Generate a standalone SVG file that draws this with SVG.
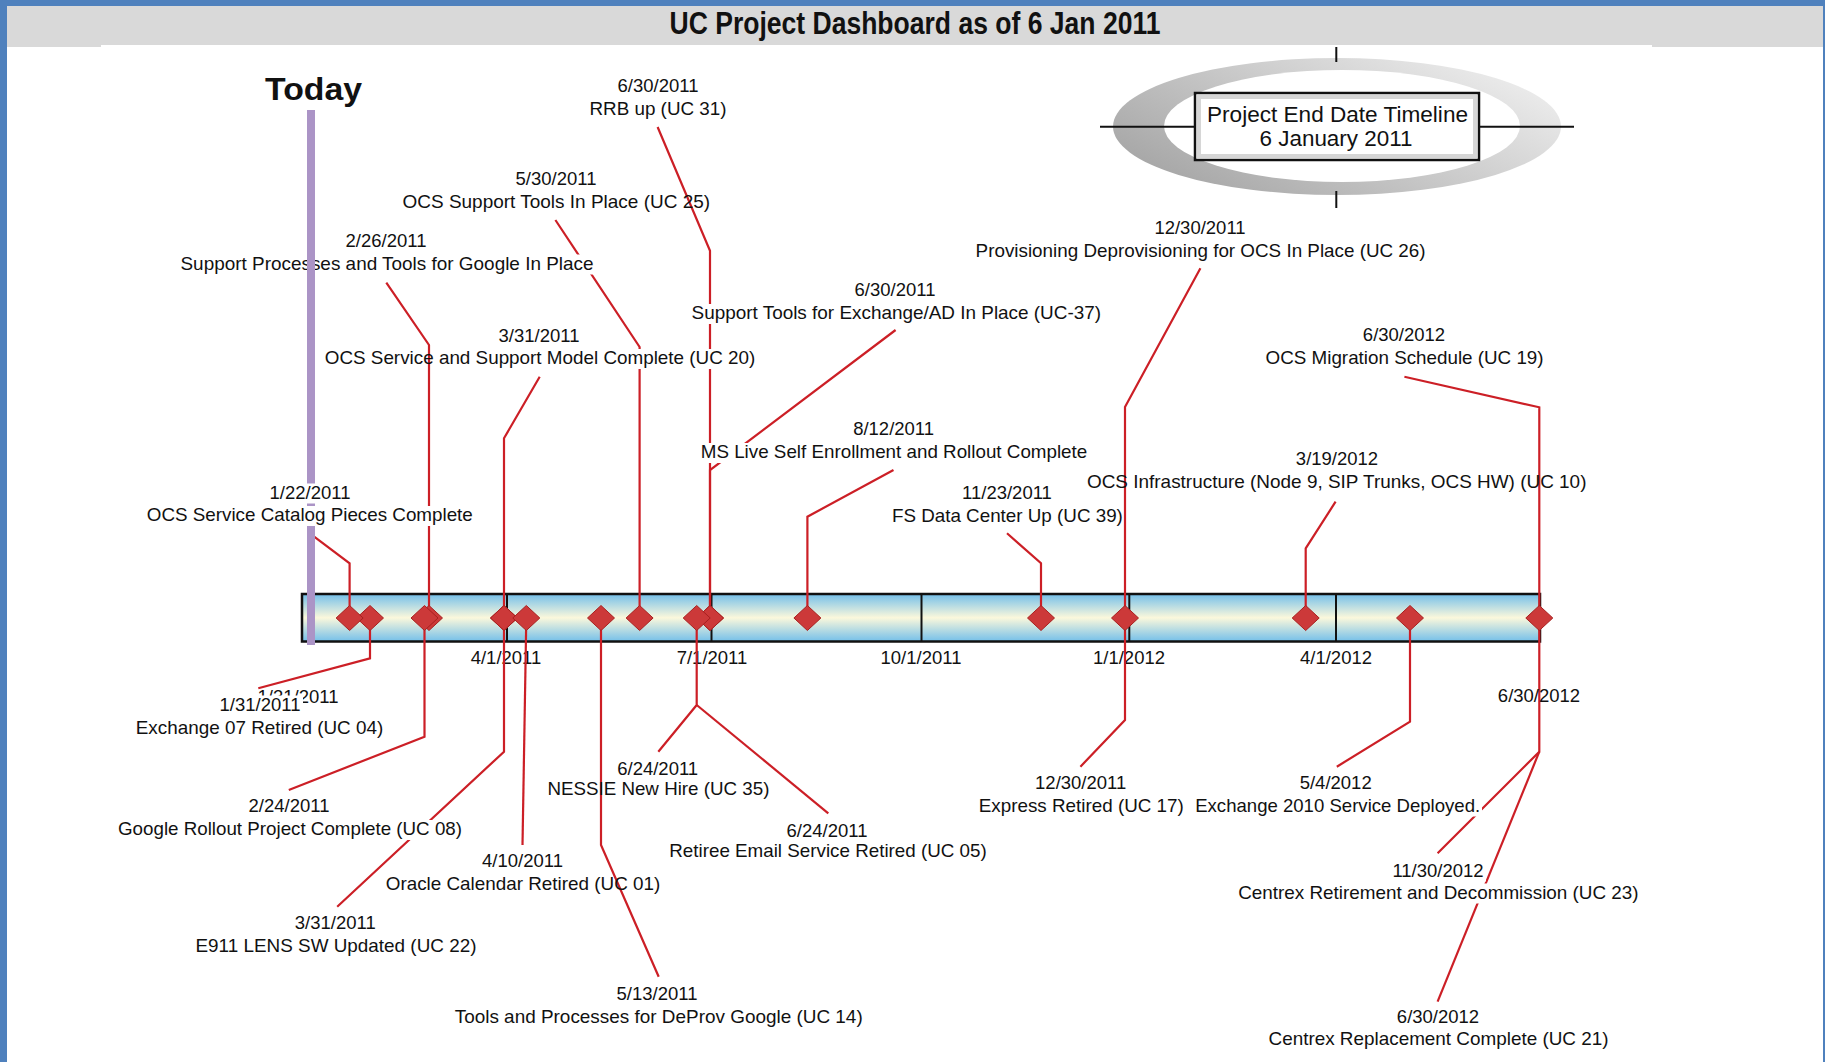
<svg xmlns="http://www.w3.org/2000/svg" width="1825" height="1062" viewBox="0 0 1825 1062">
<defs>
<style>
.t{font-family:"Liberation Sans",Arial,sans-serif;font-size:18.5px;fill:#111;text-anchor:middle}
.ax{font-family:"Liberation Sans",Arial,sans-serif;font-size:18.5px;fill:#111;text-anchor:middle}
.c{fill:none;stroke:#cc1f26;stroke-width:2.2;stroke-linejoin:miter}
.d{fill:#cc3939;stroke:#a82020;stroke-width:1}
.bg{fill:#ffffff}
.tick{stroke:#111;stroke-width:2}
</style>
<linearGradient id="barGrad" x1="0" y1="0" x2="0" y2="1">
<stop offset="0" stop-color="#74bfe9"/>
<stop offset="0.5" stop-color="#fbf8dc"/>
<stop offset="1" stop-color="#74bfe9"/>
</linearGradient>
<linearGradient id="swoosh" x1="0" y1="0.8" x2="1" y2="0.2">
<stop offset="0" stop-color="#a3a3a3"/>
<stop offset="0.5" stop-color="#c9c9c9"/>
<stop offset="1" stop-color="#efefef"/>
</linearGradient>
<path id="dia" d="M0,-12.5 L13.5,0 L0,12.5 L-13.5,0 Z"/>
</defs>

<!-- frame and title -->
<rect x="0" y="0" width="1825" height="1062" fill="#ffffff"/>
<rect x="0" y="0" width="1825" height="6" fill="#4f81bd"/>
<rect x="0" y="0" width="7" height="1062" fill="#4f81bd"/>
<rect x="1823" y="0" width="2" height="1062" fill="#4f81bd"/>
<rect x="7" y="6" width="1816" height="41" fill="#d9d9d9"/>
<rect x="101" y="45" width="1551" height="3" fill="#ffffff"/>
<text x="915" y="34" font-family="'Liberation Sans',Arial,sans-serif" font-size="31" font-weight="bold" fill="#111" text-anchor="middle" textLength="491" lengthAdjust="spacingAndGlyphs">UC Project Dashboard as of 6 Jan 2011</text>

<!-- emblem -->
<g id="emblem">
<ellipse cx="1337" cy="126.5" rx="224" ry="68.5" fill="url(#swoosh)"/>
<ellipse cx="1342" cy="126" rx="178" ry="56" fill="#ffffff"/>
<line x1="1336.3" y1="47" x2="1336.3" y2="62" class="tick"/>
<line x1="1336.3" y1="191" x2="1336.3" y2="208" class="tick"/>
<line x1="1100" y1="126.7" x2="1574" y2="126.7" class="tick"/>
<rect x="1195" y="93" width="284" height="67" fill="#ffffff" stroke="#111" stroke-width="2.5"/>
<rect x="1199" y="97" width="276" height="59" fill="none" stroke="#d6d6d6" stroke-width="4"/>
<text x="1337.5" y="121.7" font-family="'Liberation Sans',Arial,sans-serif" font-size="22" fill="#111" text-anchor="middle" textLength="261" lengthAdjust="spacingAndGlyphs">Project End Date Timeline</text>
<text x="1336" y="146" font-family="'Liberation Sans',Arial,sans-serif" font-size="22" fill="#111" text-anchor="middle" textLength="153" lengthAdjust="spacingAndGlyphs">6 January 2011</text>
</g>

<!-- Today title -->
<text id="today-label" x="313.5" y="100" font-family="'Liberation Sans',Arial,sans-serif" font-size="32" font-weight="bold" fill="#111" text-anchor="middle" textLength="97" lengthAdjust="spacingAndGlyphs">Today</text>

<!-- timeline bar -->
<g id="timeline">
<rect x="302" y="594" width="1238" height="47.5" fill="url(#barGrad)" stroke="#111" stroke-width="2.5"/>
<line x1="507" y1="594" x2="507" y2="641.5" class="tick"/>
<line x1="711.5" y1="594" x2="711.5" y2="641.5" class="tick"/>
<line x1="921.5" y1="594" x2="921.5" y2="641.5" class="tick"/>
<line x1="1129.3" y1="594" x2="1129.3" y2="641.5" class="tick"/>
<line x1="1336" y1="594" x2="1336" y2="641.5" class="tick"/>
<text class="ax" x="506" y="664">4/1/2011</text>
<text class="ax" x="712" y="664">7/1/2011</text>
<text class="ax" x="921" y="664">10/1/2011</text>
<text class="ax" x="1129" y="664">1/1/2012</text>
<text class="ax" x="1336" y="664">4/1/2012</text>
</g>

<!-- connectors -->
<g id="connectors">
<path class="c" d="M657.6,127 L710,250.7 L710,618"/>
<path class="c" d="M555.4,220 L639.6,347 L639.6,618"/>
<path class="c" d="M386.3,282.7 L429,345 L429,618"/>
<path class="c" d="M539.7,376.7 L504,438.3 L504,618"/>
<path class="c" d="M895.6,330 L710,470 L710,618"/>
<path class="c" d="M893.5,470 L807.4,516.7 L807.4,618"/>
<path class="c" d="M1007,533.3 L1041,563.3 L1041,618"/>
<path class="c" d="M1200.4,268.3 L1125,407 L1125,618"/>
<path class="c" d="M1404.4,376.7 L1539.3,407.3 L1539.3,618"/>
<path class="c" d="M1335.6,501.7 L1305.7,548.3 L1305.7,618"/>
<path class="c" d="M309.8,533.3 L349.6,563.3 L349.6,618"/>
<path class="c" d="M370,618 L370,658.3 L258.3,688.3"/>
<path class="c" d="M424.5,618 L424.5,736.7 L288.8,790"/>
<path class="c" d="M504,618 L504,751.7 L337.2,906.7"/>
<path class="c" d="M526.3,618 L522.5,845"/>
<path class="c" d="M601,618 L601,845 L658.7,976.7"/>
<path class="c" d="M696.7,618 L696.7,705 L658.3,751.7"/>
<path class="c" d="M696.7,705 L828.3,813.3"/>
<path class="c" d="M1125,618 L1125,720 L1080.4,766.7"/>
<path class="c" d="M1410,618 L1410,721.7 L1336.8,766.7"/>
<path class="c" d="M1539.3,618 L1539.3,751.7 L1437.6,853.3"/>
<path class="c" d="M1539.3,751.7 L1437.6,1001.7"/>
</g>

<!-- milestones -->
<g id="m-rrb">
<use href="#dia" x="710" y="618" class="d"/>
<text class="t" x="658" y="92">6/30/2011</text>
<text class="t" x="658" y="115" textLength="137" lengthAdjust="spacingAndGlyphs">RRB up (UC 31)</text>
</g>
<g id="m-ocs-support-tools">
<use href="#dia" x="639.6" y="618" class="d"/>
<text class="t" x="556" y="185">5/30/2011</text>
<text class="t" x="556.3" y="208" textLength="307.5" lengthAdjust="spacingAndGlyphs">OCS Support Tools In Place (UC 25)</text>
</g>
<g id="m-support-processes">
<use href="#dia" x="429" y="618" class="d"/>
<rect class="bg" x="343" y="232" width="86" height="20"/>
<rect class="bg" x="178" y="254.5" width="418" height="20"/>
<text class="t" x="386" y="247">2/26/2011</text>
<text class="t" x="387" y="269.5" textLength="413" lengthAdjust="spacingAndGlyphs">Support Processes and Tools for Google In Place</text>
</g>
<g id="m-ocs-service-model">
<use href="#dia" x="504" y="618" class="d"/>
<rect class="bg" x="496" y="326.5" width="86" height="20"/>
<rect class="bg" x="433" y="349" width="324" height="20"/>
<text class="t" x="539" y="341.5">3/31/2011</text>
<text class="t" x="540" y="364" textLength="430.5" lengthAdjust="spacingAndGlyphs">OCS Service and Support Model Complete (UC 20)</text>
</g>
<g id="m-exchange-ad-tools">
<use href="#dia" x="710" y="618" class="d"/>
<rect class="bg" x="851" y="281" width="87" height="20"/>
<rect class="bg" x="689.5" y="304" width="413.5" height="20"/>
<text class="t" x="895" y="296">6/30/2011</text>
<text class="t" x="896.3" y="319" textLength="409.5" lengthAdjust="spacingAndGlyphs">Support Tools for Exchange/AD In Place (UC-37)</text>
</g>
<g id="m-ms-live">
<use href="#dia" x="807.4" y="618" class="d"/>
<rect class="bg" x="850" y="420" width="87" height="20"/>
<rect class="bg" x="698.5" y="443" width="390" height="20"/>
<text class="t" x="893.6" y="435">8/12/2011</text>
<text class="t" x="894" y="458" textLength="386.5" lengthAdjust="spacingAndGlyphs">MS Live Self Enrollment and Rollout Complete</text>
</g>
<g id="m-fs-data-center">
<use href="#dia" x="1041" y="618" class="d"/>
<text class="t" x="1007" y="498.5">11/23/2011</text>
<text class="t" x="1007.4" y="521.5" textLength="231" lengthAdjust="spacingAndGlyphs">FS Data Center Up (UC 39)</text>
</g>
<g id="m-provisioning">
<use href="#dia" x="1125" y="618" class="d"/>
<text class="t" x="1200" y="233.5">12/30/2011</text>
<text class="t" x="1200.6" y="256.5" textLength="450" lengthAdjust="spacingAndGlyphs">Provisioning Deprovisioning for OCS In Place (UC 26)</text>
</g>
<g id="m-ocs-migration">
<use href="#dia" x="1539.3" y="618" class="d"/>
<text class="t" x="1404" y="341">6/30/2012</text>
<text class="t" x="1404.6" y="364" textLength="278" lengthAdjust="spacingAndGlyphs">OCS Migration Schedule (UC 19)</text>
</g>
<g id="m-ocs-infrastructure">
<use href="#dia" x="1305.7" y="618" class="d"/>
<text class="t" x="1337" y="465">3/19/2012</text>
<text class="t" x="1336.7" y="488" textLength="499.5" lengthAdjust="spacingAndGlyphs">OCS Infrastructure (Node 9, SIP Trunks, OCS HW) (UC 10)</text>
</g>
<g id="m-exchange07">
<use href="#dia" x="370" y="618" class="d"/>
<text class="t" x="298" y="703">1/31/2011</text>
<rect class="bg" x="216" y="695.5" width="87" height="20"/>
<text class="t" x="260" y="710.5">1/31/2011</text>
<text class="t" x="259.5" y="733.5" textLength="247.5" lengthAdjust="spacingAndGlyphs">Exchange 07 Retired (UC 04)</text>
</g>
<g id="m-google-rollout">
<use href="#dia" x="424.5" y="618" class="d"/>
<rect class="bg" x="246" y="796.5" width="86" height="20"/>
<rect class="bg" x="116" y="820" width="348" height="20"/>
<text class="t" x="289" y="811.5">2/24/2011</text>
<text class="t" x="290" y="835" textLength="344" lengthAdjust="spacingAndGlyphs">Google Rollout Project Complete (UC 08)</text>
</g>
<g id="m-e911">
<use href="#dia" x="504" y="618" class="d"/>
<text class="t" x="335.3" y="928.5">3/31/2011</text>
<text class="t" x="336" y="951.5" textLength="281" lengthAdjust="spacingAndGlyphs">E911 LENS SW Updated (UC 22)</text>
</g>
<g id="m-oracle-calendar">
<use href="#dia" x="526.3" y="618" class="d"/>
<text class="t" x="522.5" y="867">4/10/2011</text>
<text class="t" x="523" y="890" textLength="274.5" lengthAdjust="spacingAndGlyphs">Oracle Calendar Retired (UC 01)</text>
</g>
<g id="m-deprov-google">
<use href="#dia" x="601" y="618" class="d"/>
<text class="t" x="657" y="1000">5/13/2011</text>
<text class="t" x="658.7" y="1023.3" textLength="408" lengthAdjust="spacingAndGlyphs">Tools and Processes for DeProv Google (UC 14)</text>
</g>
<g id="m-nessie">
<use href="#dia" x="696.7" y="618" class="d"/>
<text class="t" x="657.7" y="774.5">6/24/2011</text>
<text class="t" x="658.4" y="795" textLength="222" lengthAdjust="spacingAndGlyphs">NESSIE New Hire (UC 35)</text>
</g>
<g id="m-retiree-email">
<text class="t" x="827" y="836.5">6/24/2011</text>
<text class="t" x="828" y="857" textLength="317.5" lengthAdjust="spacingAndGlyphs">Retiree Email Service Retired (UC 05)</text>
</g>
<g id="m-express">
<text class="t" x="1080.7" y="788.5">12/30/2011</text>
<text class="t" x="1081.3" y="811.5" textLength="205" lengthAdjust="spacingAndGlyphs">Express Retired (UC 17)</text>
</g>
<g id="m-exchange2010">
<use href="#dia" x="1410" y="618" class="d"/>
<rect class="bg" x="1297" y="773.5" width="77" height="20"/>
<rect class="bg" x="1193" y="796.5" width="289" height="20"/>
<text class="t" x="1335.7" y="788.5">5/4/2012</text>
<text class="t" x="1337.7" y="811.5" textLength="285" lengthAdjust="spacingAndGlyphs">Exchange 2010 Service Deployed.</text>
</g>
<g id="m-end-date">
<text class="t" x="1539" y="701.5">6/30/2012</text>
</g>
<g id="m-centrex-retirement">
<rect class="bg" x="1389" y="861.5" width="97" height="20"/>
<rect class="bg" x="1236" y="883.5" width="405" height="20"/>
<text class="t" x="1438" y="876.5">11/30/2012</text>
<text class="t" x="1438.4" y="898.5" textLength="400.4" lengthAdjust="spacingAndGlyphs">Centrex Retirement and Decommission (UC 23)</text>
</g>
<g id="m-centrex-replacement">
<text class="t" x="1438" y="1023">6/30/2012</text>
<text class="t" x="1438.5" y="1045" textLength="340" lengthAdjust="spacingAndGlyphs">Centrex Replacement Complete (UC 21)</text>
</g>

<!-- today marker line -->
<rect id="today-line" x="307" y="110" width="8" height="535" fill="#ab94c6"/>

<g id="m-ocs-catalog">
<use href="#dia" x="349.6" y="618" class="d"/>
<rect class="bg" x="267" y="483.5" width="86" height="20"/>
<rect class="bg" x="145" y="506" width="330" height="20"/>
<text class="t" x="310" y="498.5">1/22/2011</text>
<text class="t" x="309.8" y="521" textLength="326" lengthAdjust="spacingAndGlyphs">OCS Service Catalog Pieces Complete</text>
</g>
</svg>
